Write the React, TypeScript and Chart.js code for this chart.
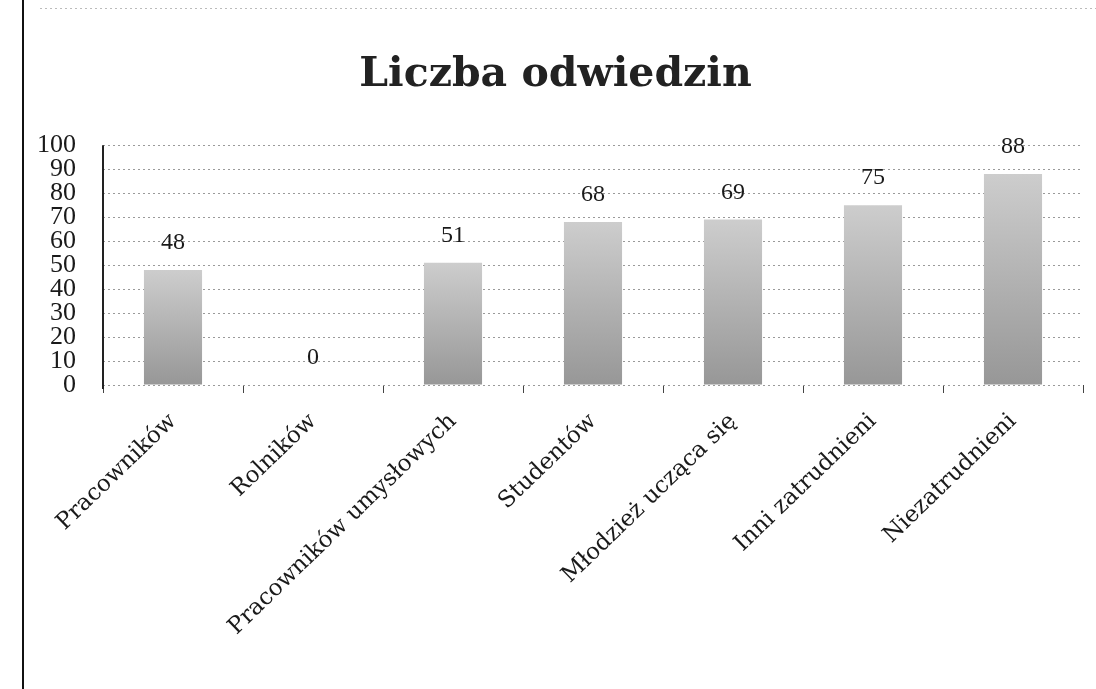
import React, { useEffect, useRef } from "react";
import { Chart, registerables } from "chart.js";

Chart.register(...registerables);

const categories = [
  "Pracowników",
  "Rolników",
  "Pracowników umysłowych",
  "Studentów",
  "Młodzież ucząca się",
  "Inni zatrudnieni",
  "Niezatrudnieni",
];
const visits = [48, 0, 51, 68, 69, 75, 88];
const yMax = 100;
const yStep = 10;

const SERIF = "'Liberation Serif', 'DejaVu Serif', serif";
const WIDE_SERIF = "'DejaVu Serif', 'Liberation Serif', serif";

const valueLabels = {
  id: "valueLabels",
  afterDatasetsDraw(chart: any) {
    const { ctx } = chart;
    const meta = chart.getDatasetMeta(0);
    ctx.save();
    ctx.font = `24px ${SERIF}`;
    ctx.fillStyle = "#1a1a1a";
    ctx.textAlign = "center";
    ctx.textBaseline = "middle";
    meta.data.forEach((bar: any, i: number) => {
      ctx.fillText(String(visits[i]), bar.x, bar.y - 27);
    });
    ctx.restore();
  },
};

const pageFrame = {
  id: "pageFrame",
  beforeDraw(chart: any) {
    const { ctx } = chart;
    ctx.save();
    ctx.fillStyle = "#fff";
    ctx.fillRect(0, 0, chart.width, chart.height);
    ctx.strokeStyle = "#111";
    ctx.lineWidth = 2;
    ctx.beginPath();
    ctx.moveTo(23, 0);
    ctx.lineTo(23, chart.height);
    ctx.stroke();
    ctx.strokeStyle = "#bbb";
    ctx.lineWidth = 1;
    ctx.setLineDash([2, 3]);
    ctx.beginPath();
    ctx.moveTo(40, 8.5);
    ctx.lineTo(chart.width, 8.5);
    ctx.stroke();
    ctx.restore();
  },
  afterDatasetsDraw(chart: any) {
    const { ctx, chartArea } = chart;
    ctx.save();
    ctx.strokeStyle = "#222";
    ctx.lineWidth = 2;
    ctx.setLineDash([]);
    ctx.beginPath();
    ctx.moveTo(chartArea.left, chartArea.top);
    ctx.lineTo(chartArea.left, chartArea.bottom + 4);
    ctx.stroke();
    ctx.restore();
  },
};

export default function App() {
  const ref = useRef<HTMLCanvasElement>(null);
  useEffect(() => {
    const chart = new Chart(ref.current!, {
      type: "bar",
      data: {
        labels: categories,
        datasets: [
          {
            data: visits,
            backgroundColor: (c: any) => {
              const ch = c.chart;
              const area = ch.chartArea;
              if (!area || c.parsed == null) return "#aaa";
              const y = ch.scales.y;
              const top = y.getPixelForValue(c.parsed.y);
              const bottom = y.getPixelForValue(0);
              if (bottom - top < 1) return "#aaa";
              const g = ch.ctx.createLinearGradient(0, top, 0, bottom);
              g.addColorStop(0, "#cdcdcd");
              g.addColorStop(1, "#979797");
              return g;
            },
            borderWidth: 0,
            barPercentage: 0.415,
            categoryPercentage: 1,
          },
        ],
      },
      options: {
        responsive: false,
        animation: false,
        layout: { padding: { left: 28, right: 13, top: 0, bottom: 0 } },
        plugins: {
          legend: { display: false },
          tooltip: { enabled: false },
          title: {
            display: true,
            text: "Liczba odwiedzin",
            color: "#222",
            font: { family: WIDE_SERIF, size: 41, weight: "bold", lineHeight: 1.2 },
            padding: { top: 51, bottom: 45 },
          },
        },
        scales: {
          x: {
            grid: {
              offset: true,
              drawOnChartArea: false,
              drawTicks: true,
              tickLength: 8,
              color: "#444",
            },
            border: { display: false },
            ticks: {
              color: "#1a1a1a",
              font: { family: WIDE_SERIF, size: 23 },
              minRotation: 44,
              maxRotation: 44,
              autoSkip: false,
              padding: 15,
            },
            afterFit: (s: any) => {
              s.height = 304;
            },
          },
          y: {
            min: 0,
            max: yMax,
            ticks: {
              stepSize: yStep,
              autoSkip: false,
              color: "#1a1a1a",
              font: { family: SERIF, size: 26 },
              padding: 27,
            },
            grid: {
              color: "#9a9a9a",
              drawTicks: false,
            },
            border: { display: false, dash: [2, 3] },
            afterFit: (s: any) => {
              s.width = 75;
            },
          },
        },
      },
      plugins: [valueLabels, pageFrame],
    } as any);
    return () => chart.destroy();
  }, []);
  return (
    <div style={{ position: "fixed", left: 0, top: 0, width: 1096, height: 689, background: "#fff" }}>
      <canvas ref={ref} width={1096} height={689} />
    </div>
  );
}
